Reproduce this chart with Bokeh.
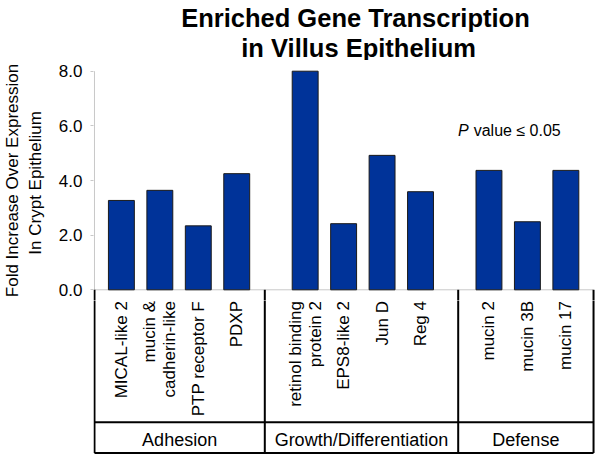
import math
from bokeh.plotting import figure
from bokeh.layouts import column
from bokeh.models import Range1d, FixedTicker, ColumnDataSource, NumeralTickFormatter
from bokeh.core.properties import value
from bokeh.embed import file_html
from bokeh.resources import INLINE

# ---------------- data ----------------
groups = ["Adhesion", "Growth/Differentiation", "Defense"]
genes_adhesion = ["MICAL-like 2", "mucin &\ncadherin-like", "PTP receptor F", "PDXP"]
genes_growth = ["retinol binding\nprotein 2", "EPS8-like 2", "Jun D", "Reg 4"]
genes_defense = ["mucin 2", "mucin 3B", "mucin 17"]
fold_adhesion = [3.27, 3.64, 2.34, 4.25]
fold_growth = [8.0, 2.42, 4.92, 3.59]
fold_defense = [4.37, 2.49, 4.37]
y_ticks = [0, 2, 4, 6, 8]
title_lines = ["Enriched Gene Transcription", "in Villus Epithelium"]
y_label = "Fold Increase Over Expression\nIn  Crypt Epithelium"
note_p = "P"
note_rest = "value \u2264 0.05"

# ---------------- layout ----------------
FONT = "Liberation Sans"
W = 600
LEFT = 91
GROUP_STEP = 4.78
BAR_W = 0.674
dividers = [-0.70, 3.73, 8.76, 12.28]
SPLIT = -0.3916
TABLE_MID = -4.845
TABLE_BOT = -5.973
GROUP_Y = -5.515
LABEL_TOP = -0.41
BAR_COLOR = "#003399"

gene_lists = [genes_adhesion, genes_growth, genes_defense]
fold_lists = [fold_adhesion, fold_growth, fold_defense]
xs, tops, names = [], [], []
for g, (gl, fl) in enumerate(zip(gene_lists, fold_lists)):
    for i, (n, v) in enumerate(zip(gl, fl)):
        xs.append(g * GROUP_STEP + i)
        tops.append(v)
        names.append(n)
src = ColumnDataSource(dict(x=xs, top=tops, name=names))

x_range = Range1d(-0.7254, 12.461)


def bare(fig):
    fig.outline_line_color = None
    fig.xgrid.visible = False
    fig.ygrid.visible = False
    return fig


# ---------------- title strip ----------------
pt = bare(figure(width=W, height=60, output_backend="svg", toolbar_location=None,
                 title=None, x_range=x_range, y_range=Range1d(0, 60),
                 x_axis_location=None, y_axis_location=None, min_border_left=LEFT,
                 min_border_right=0, min_border_top=0, min_border_bottom=0))
pt.text(x=[6.088, 6.17], y=[42.7, 12.7], text=title_lines, text_align="center",
        text_baseline="alphabetic", text_font=value(FONT), text_font_size="25.5px",
        text_font_style="bold", text_color="black")

# ---------------- bar chart ----------------
p1 = bare(figure(width=W, height=240, output_backend="svg", toolbar_location=None,
                 title=None, x_range=x_range, y_range=Range1d(SPLIT, 8.3916),
                 x_axis_location=None, min_border_left=LEFT, min_border_right=0,
                 min_border_top=0, min_border_bottom=0))

ax = p1.yaxis[0]
ax.ticker = FixedTicker(ticks=y_ticks)
ax.formatter = NumeralTickFormatter(format="0.0")
ax.axis_line_color = None
ax.major_tick_line_color = "#c8c8c8"
ax.major_tick_out = 3
ax.major_tick_in = 0
ax.minor_tick_line_color = None
ax.major_label_standoff = 8
ax.major_label_text_font = FONT
ax.major_label_text_font_size = "17px"
ax.major_label_text_color = "black"
ax.axis_label = y_label
ax.axis_label_text_font = FONT
ax.axis_label_text_font_size = "17px"
ax.axis_label_text_font_style = "normal"
ax.axis_label_text_color = "black"
ax.axis_label_standoff = 11
ax.axis_label_text_line_height = 1.2

p1.segment(x0=[dividers[0]], y0=[0], x1=[dividers[0]], y1=[y_ticks[-1]],
           line_color="#c8c8c8", line_width=1)
p1.segment(x0=[dividers[0]], y0=[0], x1=[dividers[-1]], y1=[0],
           line_color="#c8c8c8", line_width=1)

p1.vbar(x="x", top="top", bottom=0, width=BAR_W, source=src,
        fill_color=BAR_COLOR, line_color="#1a1a1a", line_width=1)

p1.segment(x0=dividers, y0=[0] * len(dividers), x1=dividers, y1=[TABLE_BOT] * len(dividers),
           line_color="black", line_width=2)

p1.text(x=[8.756], y=[5.83], text=[note_p], text_align="left", text_baseline="middle",
        text_font=value(FONT), text_font_size="16px", text_font_style="italic",
        text_color="black")
p1.text(x=[9.163], y=[5.83], text=[note_rest], text_align="left", text_baseline="middle",
        text_font=value(FONT), text_font_size="16px", text_color="black")

# ---------------- category table ----------------
p2 = bare(figure(width=W, height=160, output_backend="svg", toolbar_location=None,
                 title=None, x_range=x_range, y_range=Range1d(-6.247, SPLIT),
                 x_axis_location=None, y_axis_location=None, min_border_left=LEFT,
                 min_border_right=0, min_border_top=0, min_border_bottom=0))

p2.text(x="x", y=LABEL_TOP, text="name", source=src, angle=math.pi / 2,
        text_align="right", text_baseline="middle", text_font=value(FONT),
        text_font_size="17px", text_color="black", text_line_height=1.05)

p2.segment(x0=dividers, y0=[0] * len(dividers), x1=dividers, y1=[TABLE_BOT] * len(dividers),
           line_color="black", line_width=2)
p2.segment(x0=[dividers[0]] * 2, y0=[TABLE_MID, TABLE_BOT], x1=[dividers[-1]] * 2,
           y1=[TABLE_MID, TABLE_BOT], line_color="black", line_width=2)

gx = [(dividers[i] + dividers[i + 1]) / 2 for i in range(len(groups))]
p2.text(x=gx, y=[GROUP_Y] * len(groups), text=groups, text_align="center",
        text_baseline="middle", text_font=value(FONT), text_font_size="18px",
        text_color="black")

layout = column(pt, p1, p2, spacing=0)
open("out.html", "w").write(file_html(layout, INLINE))
